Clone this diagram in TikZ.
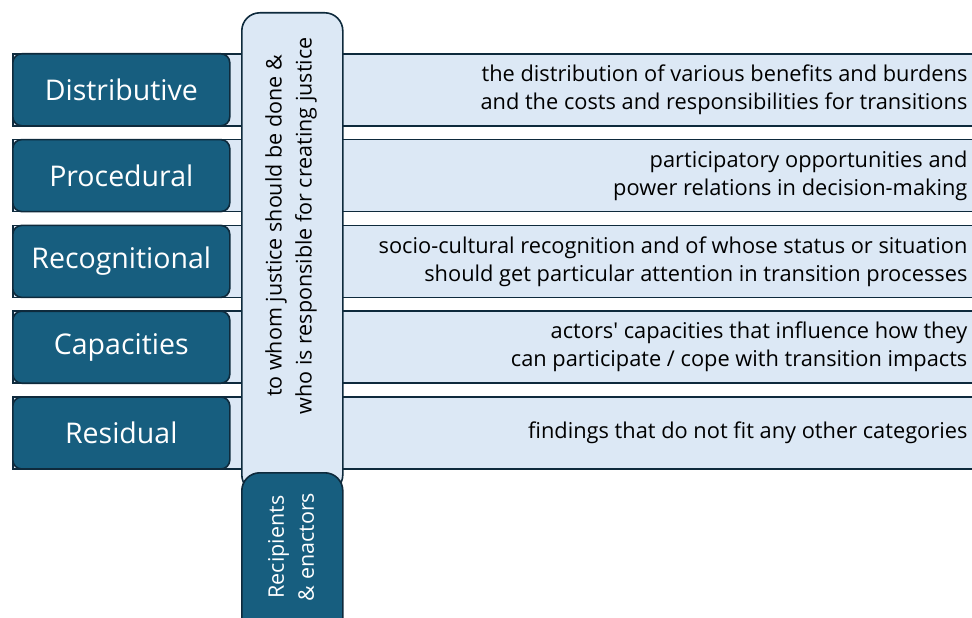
\documentclass[tikz,border=0pt]{standalone}
\usepackage{fontspec}
\setmainfont{Open Sans}
\usetikzlibrary{positioning}
\definecolor{darkteal}{HTML}{175E7F}
\definecolor{paleblue}{HTML}{DCE8F5}
\definecolor{edgeblue}{HTML}{0E2A3C}
\tikzset{%
	band/.style     = {draw=edgeblue, line width=1.6pt, fill=paleblue, minimum width=978pt, minimum height=72pt, inner sep=0pt}, % long pale strip
	category/.style = {draw=edgeblue, line width=1.6pt, fill=darkteal, rounded corners=9pt, minimum width=217pt, minimum height=72pt, inner sep=0pt, text=white, font=\fontsize{28.5}{30}\selectfont},
	desc/.style     = {anchor=east, align=right, inner sep=0pt, font=\fontsize{21.8}{28}\selectfont},
	pillar/.style   = {draw=edgeblue, line width=1.6pt, fill=paleblue, rounded corners=18pt, minimum width=101pt, inner sep=0pt},
	actors/.style   = {draw=edgeblue, line width=1.6pt, fill=darkteal, rounded corners=18pt, minimum width=101pt, inner sep=0pt},
	upright/.style  = {rotate=90, align=center, inner sep=0pt, font=\fontsize{21.5}{30}\selectfont},
}

\begin{document}
\begin{tikzpicture}[x=1pt, y=1pt, node distance=12.2pt]
	\useasboundingbox (0,0) rectangle (972,-618);
	% strips running out to the right
	\node[band, anchor=north west] (b1) at (12,-53) {};
	\node[band, below=of b1] (b2) {};
	\node[band, below=of b2] (b3) {};
	\node[band, below=of b3] (b4) {};
	\node[band, below=of b4] (b5) {};
	\node[desc] (d1) at ([xshift=-24pt]b1.east) {the distribution of various benefits and burdens\\and the costs and responsibilities for transitions};
	\node[desc] (d2) at ([xshift=-24pt]b2.east) {participatory opportunities and\\power relations in decision-making};
	\node[desc] (d3) at ([xshift=-24pt]b3.east) {socio-cultural recognition and of whose status or situation\\should get particular attention in transition processes};
	\node[desc] (d4) at ([xshift=-24pt]b4.east) {actors\textquotesingle{} capacities that influence how they\\can participate / cope with transition impacts};
	\node[desc] (d5) at ([xshift=-24pt]b5.east) {findings that do not fit any other categories};

	% the justice categories
	\node[category, anchor=north west] (dist) at (12,-53) {Distributive};
	\node[category, below=of dist] (proc) {Procedural};
	\node[category, below=of proc] (recog) {Recognitional};
	\node[category, below=of recog] (capa) {Capacities};
	\node[category, below=of capa] (resid) {Residual};

	% vertical column across all strips
	\node[pillar, anchor=north west, minimum height=480pt] (col) at (241,-12) {};
	\node[upright] (who) at (291,-226) {to whom justice should be done \&\\who is responsible for creating justice};
	\node[actors, anchor=north west, minimum height=170pt] (rec) at (241,-472) {};
	\node[upright, text=white] (recl) at (291,-547) {Recipients\\\& enactors};
\end{tikzpicture}
\end{document}
